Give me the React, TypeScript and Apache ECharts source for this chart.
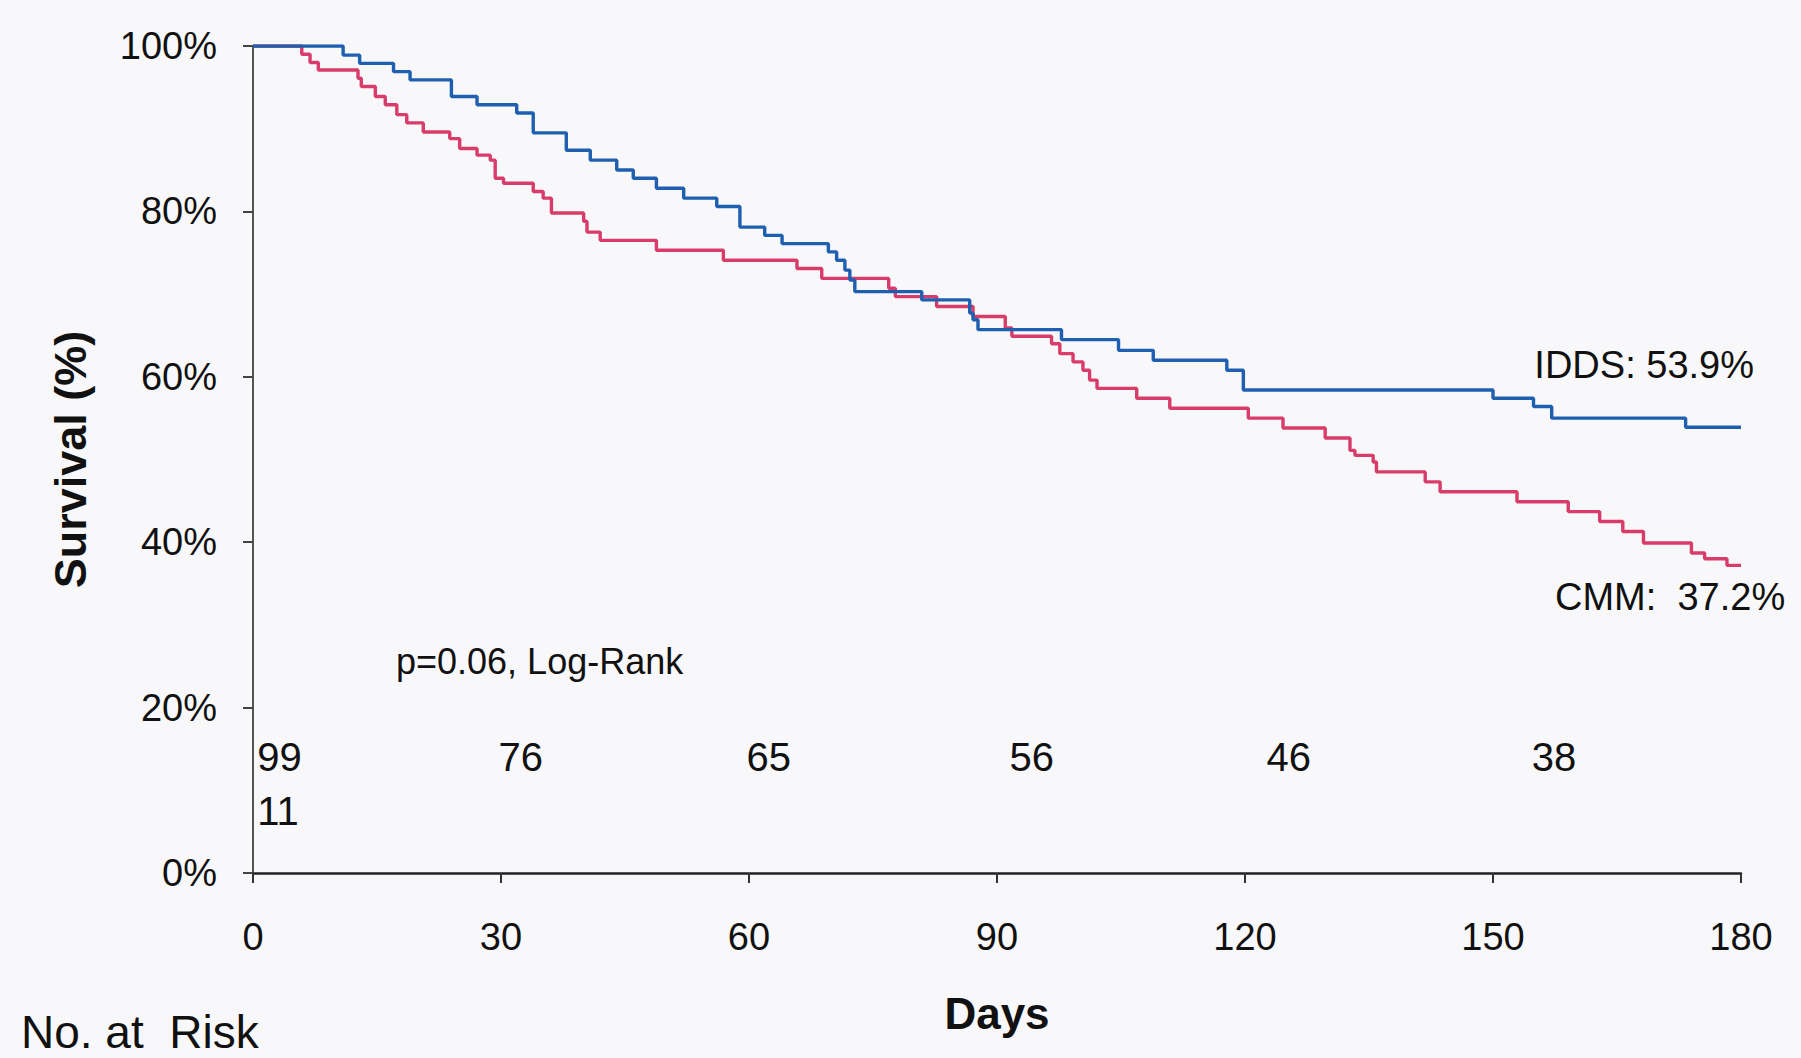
import React, { useEffect, useRef } from "react";
import * as echarts from "echarts";

// Kaplan-Meier steps: [day, survival %]
const iddsSteps: number[][] = [
  [0, 100], [10.9, 98.9], [12.9, 97.9], [17.0, 96.9], [19.0, 95.9], [24.0, 93.9],
  [27.1, 92.9], [31.9, 91.9], [33.9, 89.5], [37.9, 87.4], [40.8, 86.2], [44.0, 85.0],
  [46.0, 84.0], [48.8, 82.8], [52.1, 81.6], [56.1, 80.6], [58.9, 78.1], [61.9, 77.1],
  [64.0, 76.1], [69.6, 75.1], [70.6, 74.1], [71.6, 72.9], [72.2, 71.7], [72.8, 70.3],
  [80.9, 69.3], [86.7, 67.7], [87.1, 66.9], [87.7, 65.7], [97.8, 64.5], [104.7, 63.2],
  [108.9, 62.0], [117.8, 60.8], [119.8, 58.4], [150.0, 57.4], [154.9, 56.4], [157.1, 55.0],
  [173.3, 53.9], [180, 53.9],
];

const cmmSteps: number[][] = [
  [0, 100], [5.9, 99.0], [6.9, 98.0], [7.9, 97.1], [12.7, 96.1], [13.1, 95.1],
  [14.8, 93.9], [16.0, 92.9], [17.4, 91.7], [18.6, 90.7], [20.6, 89.6], [23.8, 88.8],
  [25.0, 87.6], [27.1, 86.8], [28.7, 86.2], [29.3, 84.0], [30.3, 83.4], [33.9, 82.4],
  [35.1, 81.6], [36.1, 79.8], [40.0, 78.8], [40.4, 77.5], [42.0, 76.5], [48.8, 75.3],
  [56.9, 74.1], [65.8, 73.1], [68.8, 71.9], [76.9, 70.7], [77.7, 69.7], [82.7, 68.5],
  [87.1, 67.3], [91.0, 65.9], [91.8, 64.9], [96.6, 64.0], [97.6, 62.8], [99.2, 61.8],
  [100.4, 60.8], [101.2, 59.6], [102.1, 58.6], [106.9, 57.4], [110.9, 56.2], [120.4, 55.0],
  [124.6, 53.8], [129.7, 52.6], [132.7, 51.1], [133.3, 50.5], [135.5, 49.7], [135.9, 48.5],
  [141.8, 47.3], [143.6, 46.1], [152.9, 44.9], [159.1, 43.7], [162.9, 42.5], [165.7, 41.3],
  [168.2, 39.9], [174.0, 38.7], [175.6, 38.0], [178.3, 37.2], [180, 37.2],
];

const xTicks = [0, 30, 60, 90, 120, 150, 180];
const yTicks = [0, 20, 40, 60, 80, 100];

// numbers at risk
const atRiskDays = [0.5, 29.7, 59.7, 91.5, 122.6, 154.7];
const atRiskRow1 = ["99", "76", "65", "56", "46", "38"];
const atRiskRow1Y = 14.0;
const atRiskRow2Days = [0.5];
const atRiskRow2 = ["11"];
const atRiskRow2Y = 7.5;

const FONT = "'Liberation Sans', Arial, Helvetica, sans-serif";
const BLUE = "#1f5fb0";
const RED = "#d83c6a";
const INK = "#111111";

export default function App() {
  const ref = useRef<HTMLDivElement>(null);

  useEffect(() => {
    if (!ref.current) return;
    const chart = echarts.init(ref.current, undefined, { renderer: "svg" });

    const riskData = [
      ...atRiskDays.map((d, i) => [d, atRiskRow1Y, atRiskRow1[i]]),
      ...atRiskRow2Days.map((d, i) => [d, atRiskRow2Y, atRiskRow2[i]]),
    ];

    chart.setOption({
      animation: false,
      backgroundColor: "#f8f8fa",
      textStyle: { fontFamily: FONT },
      grid: { left: 253, right: 60, top: 46, bottom: 185 },
      xAxis: {
        type: "value",
        min: xTicks[0],
        max: xTicks[xTicks.length - 1],
        interval: 30,
        name: "Days",
        nameLocation: "middle",
        nameGap: 118,
        nameTextStyle: { fontFamily: FONT, fontSize: 44, fontWeight: "bold", color: INK },
        axisLine: { show: true, lineStyle: { color: "#222", width: 2.5 } },
        axisTick: { show: true, length: 10, lineStyle: { color: "#333", width: 2 } },
        axisLabel: { margin: 45, fontSize: 38, color: INK, fontFamily: FONT },
        splitLine: { show: false },
      },
      yAxis: {
        type: "value",
        min: yTicks[0],
        max: yTicks[yTicks.length - 1],
        interval: 20,
        name: "Survival (%)",
        nameLocation: "middle",
        nameGap: 160,
        nameTextStyle: { fontFamily: FONT, fontSize: 45, fontWeight: "bold", color: INK },
        axisLine: { show: true, lineStyle: { color: "#555", width: 2 } },
        axisTick: { show: true, length: 10, lineStyle: { color: "#444", width: 2 } },
        axisLabel: { margin: 36, fontSize: 38, color: INK, fontFamily: FONT, formatter: "{value}%" },
        splitLine: { show: false },
      },
      series: [
        {
          name: "CMM",
          type: "line",
          step: "end",
          data: cmmSteps,
          showSymbol: false,
          lineStyle: { color: RED, width: 3.4 },
          itemStyle: { color: RED },
          z: 3,
        },
        {
          name: "IDDS",
          type: "line",
          step: "end",
          data: iddsSteps,
          showSymbol: false,
          lineStyle: { color: BLUE, width: 3.4 },
          itemStyle: { color: BLUE },
          z: 4,
        },
        {
          name: "At risk",
          type: "scatter",
          data: riskData,
          symbolSize: 0,
          silent: true,
          itemStyle: { opacity: 1, color: INK },
          label: {
            show: true,
            position: "right",
            distance: 0,
            fontSize: 40,
            color: INK,
            opacity: 1,
            fontFamily: FONT,
            formatter: (p: any) => p.data[2],
          },
          z: 5,
        },
      ],
      graphic: [
        {
          type: "text",
          left: 396,
          top: 663 - 20,
          style: { text: "p=0.06, Log-Rank", fontSize: 36, fontFamily: FONT, fill: INK },
        },
        {
          type: "text",
          x: 1754,
          y: 365,
          style: {
            text: "IDDS: 53.9%",
            fontSize: 38,
            fontFamily: FONT,
            fill: INK,
            align: "right",
            verticalAlign: "middle",
          },
        },
        {
          type: "text",
          x: 1555,
          y: 597,
          style: {
            text: "CMM:  37.2%",
            fontSize: 38,
            fontFamily: FONT,
            fill: INK,
            align: "left",
            verticalAlign: "middle",
          },
        },
        {
          type: "text",
          x: 21,
          y: 1032,
          style: {
            text: "No. at  Risk",
            fontSize: 46,
            fontFamily: FONT,
            fill: INK,
            align: "left",
            verticalAlign: "middle",
          },
        },
      ],
    });

    return () => chart.dispose();
  }, []);

  return (
    <div
      ref={ref}
      style={{ position: "fixed", left: 0, top: 0, width: 1801, height: 1058 }}
    />
  );
}
